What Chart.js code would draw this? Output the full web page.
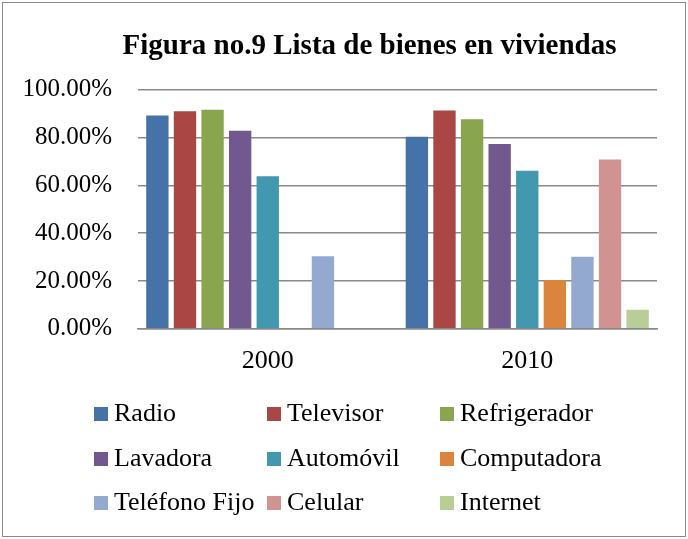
<!DOCTYPE html>
<html>
<head>
<meta charset="utf-8">
<script src="https://cdn.jsdelivr.net/npm/chart.js@4.4.1/dist/chart.umd.min.js"></script>
<style>
  body { margin: 0; background: #fff; }
  #wrap { position: relative; width: 688px; height: 539px; }
  #frame { position: absolute; left: 2px; top: 2px; width: 682px; height: 533px; border: 1px solid #8a8a8a; }
  canvas { position: absolute; left: 0; top: 0; }
  #legend { position: absolute; left: 94px; top: 398px; display: grid;
    grid-template-columns: 173px 173px 173px; grid-auto-rows: 44.5px;
    font-family: "Liberation Serif", serif; font-size: 26px; line-height: 30px; color: #000; }
  #legend span.box { display: inline-block; width: 14px; height: 14px; margin-right: 6px; vertical-align: baseline; }
  #legend div { white-space: nowrap; }
</style>
</head>
<body>
<div id="wrap">
  <div id="frame"></div>
  <canvas id="chart" width="688" height="539"></canvas>
  <div id="legend"></div>
</div>
<script>
// categories
const years = ["2000", "2010"];
const items = ["Radio", "Televisor", "Refrigerador", "Lavadora", "Automóvil",
               "Computadora", "Teléfono Fijo", "Celular", "Internet"];

// values per item, in percent (2000, 2010)
const radio        = [89.2, 80.4];
const televisor    = [91.0, 91.3];
const refrigerador = [91.7, 87.7];
const lavadora     = [82.9, 77.3];
const automovil    = [63.8, 66.1];
const computadora  = [0, 20.4];
const telefonoFijo = [30.4, 30.1];
const celular      = [0, 70.8];
const internet     = [0, 8.0];

const yTicks = [0, 20, 40, 60, 80, 100];

const colors = ["#4572A7", "#AA4643", "#89A54E", "#71588F", "#4198AF",
                "#DB843D", "#93A9CF", "#D19392", "#B9CD96"];

const series = [radio, televisor, refrigerador, lavadora, automovil,
                computadora, telefonoFijo, celular, internet];

const serif = "'Liberation Serif', 'Times New Roman', serif";

// the original title sits a bit right of the page centre
const shiftTitle = {
  id: "shiftTitle",
  afterLayout(chart) {
    if (chart.titleBlock) {
      chart.titleBlock.left += 36;
      chart.titleBlock.right += 36;
    }
  },
};

const chart = new Chart(document.getElementById("chart"), {
  type: "bar",
  data: {
    labels: years,
    datasets: series.map((vals, i) => ({
      label: items[i],
      data: vals,
      backgroundColor: colors[i],
      borderWidth: 0,
      barPercentage: 0.81,
      categoryPercentage: 0.957,
    })),
  },
  plugins: [shiftTitle],
  options: {
    responsive: false,
    animation: false,
    layout: { padding: { left: 10, right: 31, top: 10, bottom: 145 } },
    plugins: {
      legend: { display: false },
      tooltip: { enabled: false },
      title: {
        display: true,
        text: "Figura no.9 Lista de bienes en viviendas",
        color: "#000",
        font: { family: serif, size: 29, weight: "bold" },
        padding: { top: 19, bottom: 26 },
      },
    },
    scales: {
      x: {
        grid: { display: false, drawTicks: false },
        border: { display: true, color: "#898989", width: 1.5 },
        ticks: { color: "#000", padding: 17, font: { family: serif, size: 26 } },
      },
      y: {
        min: 0,
        max: 100,
        afterBuildTicks: (axis) => { axis.ticks = yTicks.map((v) => ({ value: v })); },
        afterFit: (axis) => { axis.width = 138 - 10; },
        grid: { color: "#898989", lineWidth: 1.5, drawTicks: false },
        border: { display: false },
        ticks: {
          color: "#000",
          padding: 26,
          font: { family: serif, size: 25 },
          callback: (v) => v.toFixed(2) + "%",
        },
      },
    },
  },
});

// legend laid out in three columns like the original
const legend = document.getElementById("legend");
items.forEach((name, i) => {
  const d = document.createElement("div");
  d.innerHTML = '<span class="box" style="background:' + colors[i] + '"></span>' + name;
  legend.appendChild(d);
});
</script>
</body>
</html>
